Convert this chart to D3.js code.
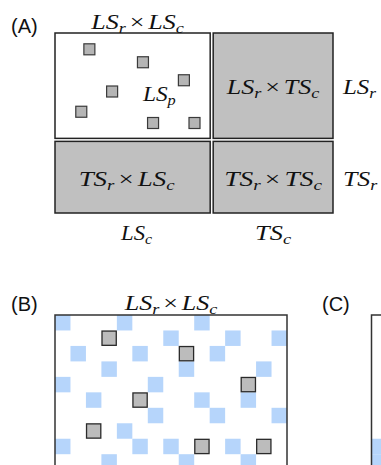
<!DOCTYPE html>
<html>
<head>
<meta charset="utf-8">
<script src="https://cdn.jsdelivr.net/npm/d3@7"></script>
<style>
  body { margin: 0; background: #fff; }
  svg { display: block; }
</style>
</head>
<body>
<div id="chart"></div>
<script>
// ---- data ----
// panel A: block structure (sample counts per block)
var colBlocks = ["LS", "TS"];
var colCounts = [31, 24];
var rowBlocks = ["LS", "TS"];
var rowCounts = [19, 13];
// observed entries inside LS_r x LS_c (col, row units)
var lsPoints = [[6.8, 2.9], [17.4, 5.2], [25.5, 8.4], [11.3, 10.4],
                [5.2, 14.0], [19.4, 16.0], [27.6, 16.0]];

// panel B: grid cells (row, col)
var gridCols = 15, gridRows = 10;
var blueCells = [
  [0, 0], [0, 4], [0, 9],
  [1, 7], [1, 11], [1, 14],
  [2, 1], [2, 5], [2, 10],
  [3, 3], [3, 8], [3, 13],
  [4, 0], [4, 6],
  [5, 2], [5, 9], [5, 12],
  [6, 6], [6, 10], [6, 14],
  [7, 4],
  [8, 0], [8, 5], [8, 7], [8, 11],
  [9, 3], [9, 8], [9, 12]
];
var grayCells = [[1, 3], [2, 8], [4, 12], [5, 5], [7, 2], [8, 9], [8, 13]];
// panel C: visible cells
var blueCellsC = [[8, 0], [9, 0]];

var width = 381, height = 465;
var svg = d3.select("#chart").append("svg")
  .attr("width", width).attr("height", height);

var mathFont = "'Liberation Serif', 'Times New Roman', serif";
var GRAY = "#c0c0c0", BLUE = "#b6d5fb", DARK = "#222";

// math label like LS_r × TS_c, stretched to a target width
function mathLabel(g, parts, cx, y, w, anchor) {
  var t = g.append("text")
    .attr("font-family", mathFont)
    .attr("font-size", 20)
    .attr("fill", "#111");
  var down = 0;
  parts.forEach(function (p, i) {
    if (p.op) {
      t.append("tspan").attr("font-style", "normal")
        .attr("dx", 3).attr("dy", -down).text(p.op);
      down = 0;
      return;
    }
    t.append("tspan").attr("font-style", "italic")
      .attr("dx", i > 0 ? 3 : 0).attr("dy", -down).text(p.t);
    t.append("tspan").attr("font-style", "italic")
      .attr("font-size", 14).attr("dy", 4).text(p.sub);
    down = 4;
  });
  var bw = t.node().getBBox().width;
  var sx = w / bw;
  t.attr("text-anchor", anchor || "middle")
    .attr("transform", "translate(" + cx + "," + y + ") scale(" + sx + ",1)");
  return t;
}

function panelLabel(txt, x, y) {
  svg.append("text")
    .attr("x", x).attr("y", y)
    .attr("font-family", "'Liberation Sans', Arial, sans-serif")
    .attr("font-size", 20)
    .attr("fill", "#111")
    .text(txt);
}

// ---------- panel A ----------
var gA = svg.append("g");
var xA = d3.scaleLinear().domain([0, d3.sum(colCounts)]).range([55, 333]);
var yA = d3.scaleLinear().domain([0, d3.sum(rowCounts)]).range([33, 213]);
var gap = 3;

function spans(counts, sc) {
  var acc = 0;
  return counts.map(function (c, i) {
    var a = acc, b = acc + c;
    acc = b;
    return {
      i: i,
      p0: sc(a) + (i > 0 ? gap / 2 : 0),
      p1: sc(b) - (i < counts.length - 1 ? gap / 2 : 0)
    };
  });
}
var colSp = spans(colCounts, xA);
var rowSp = spans(rowCounts, yA);

var blocks = [];
rowSp.forEach(function (r) {
  colSp.forEach(function (c) {
    blocks.push({ r: r, c: c, row: rowBlocks[r.i], col: colBlocks[c.i] });
  });
});

gA.selectAll("rect.block").data(blocks).enter().append("rect")
  .attr("class", "block")
  .attr("x", function (d) { return d.c.p0; })
  .attr("y", function (d) { return d.r.p0; })
  .attr("width", function (d) { return d.c.p1 - d.c.p0; })
  .attr("height", function (d) { return d.r.p1 - d.r.p0; })
  .attr("fill", function (d) { return d.r.i === 0 && d.c.i === 0 ? "#fff" : GRAY; })
  .attr("stroke", DARK)
  .attr("stroke-width", 1.5);

var sq = 11;
gA.selectAll("rect.obs").data(lsPoints).enter().append("rect")
  .attr("class", "obs")
  .attr("x", function (d) { return xA(d[0]) - sq / 2; })
  .attr("y", function (d) { return yA(d[1]) - sq / 2; })
  .attr("width", sq).attr("height", sq)
  .attr("fill", "#b5b5b5")
  .attr("stroke", "#3a3a3a")
  .attr("stroke-width", 1.2);

// block labels
var labelW = [[95, 95], [97, 99]];
var labelDx = [[5, 0], [-6, 0]];
blocks.forEach(function (d) {
  var cx = (d.c.p0 + d.c.p1) / 2 + labelDx[d.r.i][d.c.i];
  var cy = (d.r.p0 + d.r.p1) / 2;
  var parts = [{ t: d.row, sub: "r" }, { op: "\u00d7" }, { t: d.col, sub: "c" }];
  if (d.r.i === 0 && d.c.i === 0) {
    mathLabel(gA, parts, cx, d.r.p0 - 4, labelW[0][0]);
    mathLabel(gA, [{ t: "LS", sub: "p" }], xA(17.4), yA(12.1), 34, "start");
  } else {
    mathLabel(gA, parts, cx, cy + 8.5, labelW[d.r.i][d.c.i]);
  }
});
// row labels on the right
rowSp.forEach(function (r) {
  mathLabel(gA, [{ t: rowBlocks[r.i], sub: "r" }], 343, (r.p0 + r.p1) / 2 + 8.5, 35, "start");
});
// column labels at the bottom
var colLabelW = [33, 37];
colSp.forEach(function (c) {
  mathLabel(gA, [{ t: colBlocks[c.i], sub: "c" }], (c.p0 + c.p1) / 2 + (c.i === 0 ? 4 : 0), 240, colLabelW[c.i]);
});

panelLabel("(A)", 11, 33);

// ---------- panel B ----------
var gB = svg.append("g");
var cell = 232 / gridCols;
var xB = d3.scaleBand().domain(d3.range(gridCols)).range([55, 55 + gridCols * cell]);
var yB = d3.scaleBand().domain(d3.range(gridRows)).range([315, 315 + gridRows * cell]);

gB.selectAll("rect.blue").data(blueCells).enter().append("rect")
  .attr("class", "blue")
  .attr("x", function (d) { return xB(d[1]); })
  .attr("y", function (d) { return yB(d[0]); })
  .attr("width", xB.bandwidth()).attr("height", yB.bandwidth())
  .attr("fill", BLUE);

gB.append("rect")
  .attr("x", 55).attr("y", 315)
  .attr("width", gridCols * cell).attr("height", 260)
  .attr("fill", "none")
  .attr("stroke", "#333").attr("stroke-width", 1.5);

gB.selectAll("rect.gray").data(grayCells).enter().append("rect")
  .attr("class", "gray")
  .attr("x", function (d) { return xB(d[1]) + 0.6; })
  .attr("y", function (d) { return yB(d[0]) + 0.6; })
  .attr("width", xB.bandwidth() - 1.2).attr("height", yB.bandwidth() - 1.2)
  .attr("fill", "#bcbcbc")
  .attr("stroke", "#2a2a2a").attr("stroke-width", 1.3);

mathLabel(gB, [{ t: "LS", sub: "r" }, { op: "\u00d7" }, { t: "LS", sub: "c" }], 171, 310, 95);
panelLabel("(B)", 11, 311);

// ---------- panel C ----------
var gC = svg.append("g");
var xC = d3.scaleBand().domain(d3.range(gridCols)).range([371.5, 371.5 + gridCols * cell]);

gC.selectAll("rect.blue").data(blueCellsC).enter().append("rect")
  .attr("x", function (d) { return xC(d[1]); })
  .attr("y", function (d) { return yB(d[0]); })
  .attr("width", xC.bandwidth()).attr("height", yB.bandwidth())
  .attr("fill", BLUE);

gC.append("rect")
  .attr("x", 371.5).attr("y", 315)
  .attr("width", gridCols * cell).attr("height", 260)
  .attr("fill", "none")
  .attr("stroke", "#333").attr("stroke-width", 1.5);

panelLabel("(C)", 322, 311);
</script>
</body>
</html>
